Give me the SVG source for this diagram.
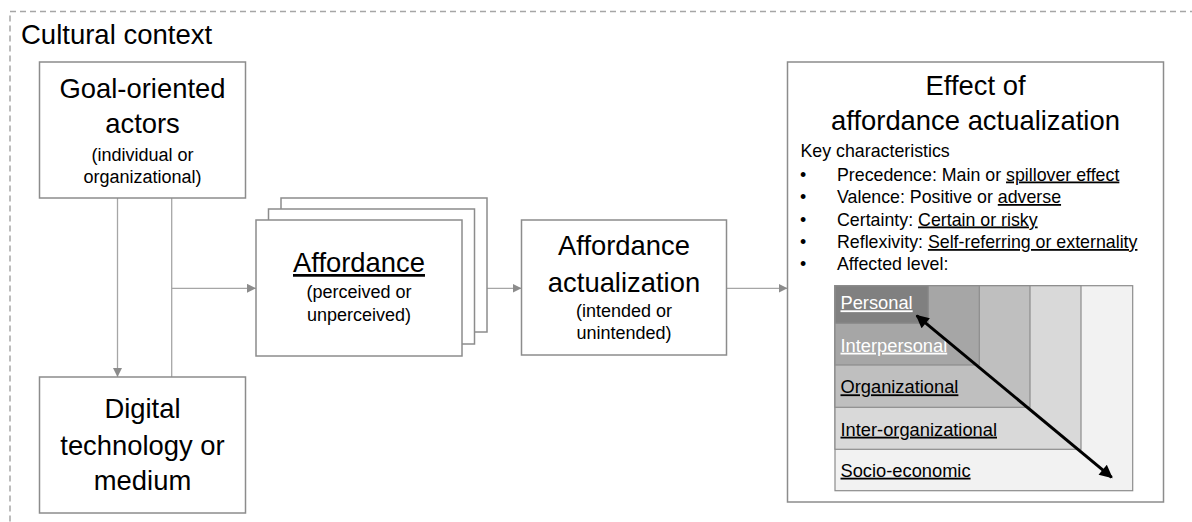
<svg xmlns="http://www.w3.org/2000/svg" width="1192" height="522" viewBox="0 0 1192 522">
<style>
  text { font-family: "Liberation Sans", Arial, sans-serif; fill: #000; }
  .big { font-size: 27.4px; text-anchor: middle; }
  .sub { font-size: 18px; text-anchor: middle; }
  .small { font-size: 17.8px; }
  .lvl { font-size: 18.3px; text-decoration: underline; }
  .box { fill: #fff; stroke: #8c8c8c; stroke-width: 1.5; }
  .conn { fill: none; stroke: #a6a6a6; stroke-width: 1.3; }
  .lv { stroke: #8c8c8c; stroke-width: 1.2; }
  .u { text-decoration: underline; }
</style>
<defs>
  <marker id="ga" viewBox="0 0 10 10" refX="10" refY="5" markerWidth="9" markerHeight="9" markerUnits="userSpaceOnUse" orient="auto">
    <path d="M0,0 L10,5 L0,10 Z" fill="#8c8c8c"/>
  </marker>
  <marker id="ba" viewBox="0 0 10 10" refX="9" refY="5" markerWidth="16" markerHeight="13" markerUnits="userSpaceOnUse" orient="auto-start-reverse">
    <path d="M0,0 L10,5 L0,10 Z" fill="#000"/>
  </marker>
</defs>

<rect x="10" y="11.5" width="1200" height="530" fill="none" stroke="#a6a6a6" stroke-width="1.5" stroke-dasharray="6 4"/>
<text x="21" y="44" style="font-size:27.5px">Cultural context</text>

<g id="connectors">
  <line class="conn" x1="117.5" y1="198" x2="117.5" y2="377" marker-end="url(#ga)"/>
  <line class="conn" x1="171.7" y1="198" x2="171.7" y2="377"/>
  <line class="conn" x1="171.7" y1="288.3" x2="256" y2="288.3" marker-end="url(#ga)"/>
  <line class="conn" x1="487" y1="288.3" x2="521.5" y2="288.3" marker-end="url(#ga)"/>
  <line class="conn" x1="726.5" y1="288.3" x2="787.5" y2="288.3" marker-end="url(#ga)"/>
</g>

<g id="goal-actors">
  <rect class="box" x="39.5" y="62" width="206" height="136"/>
  <text class="big" x="142.5" y="98">Goal-oriented</text>
  <text class="big" x="142.5" y="133">actors</text>
  <text class="sub" x="142.5" y="161">(individual or</text>
  <text class="sub" x="142.5" y="183">organizational)</text>
</g>

<g id="digital-technology">
  <rect class="box" x="39.5" y="377" width="206" height="136"/>
  <text class="big" x="142.5" y="418">Digital</text>
  <text class="big" x="142.5" y="455">technology or</text>
  <text class="big" x="142.5" y="490">medium</text>
</g>

<g id="affordance">
  <rect class="box" x="281" y="198" width="206" height="134"/>
  <rect class="box" x="268.5" y="209" width="206" height="135"/>
  <rect class="box" x="256" y="220" width="206" height="136"/>
  <text class="big u" x="359" y="272">Affordance</text>
  <text class="sub" x="359" y="298">(perceived or</text>
  <text class="sub" x="359" y="321">unperceived)</text>
</g>

<g id="affordance-actualization">
  <rect class="box" x="521.5" y="220" width="205" height="135"/>
  <text class="big" x="624" y="255">Affordance</text>
  <text class="big" x="624" y="291.5">actualization</text>
  <text class="sub" x="624" y="316.5">(intended or</text>
  <text class="sub" x="624" y="339">unintended)</text>
</g>

<g id="effect">
  <rect class="box" x="787.5" y="62" width="376" height="440"/>
  <text class="big" x="975.5" y="95">Effect of</text>
  <text class="big" x="975.5" y="130">affordance actualization</text>
  <text class="small" x="800.5" y="156.5">Key characteristics</text>
  <text class="small" x="800" y="180.5">•</text>
  <text class="small" x="837" y="180.5">Precedence: Main or <tspan class="u">spillover effect</tspan></text>
  <text class="small" x="800" y="203">•</text>
  <text class="small" x="837" y="203">Valence: Positive or <tspan class="u">adverse</tspan></text>
  <text class="small" x="800" y="225.5">•</text>
  <text class="small" x="837" y="225.5">Certainty: <tspan class="u">Certain or risky</tspan></text>
  <text class="small" x="800" y="248">•</text>
  <text class="small" x="837" y="248">Reflexivity: <tspan class="u">Self-referring or externality</tspan></text>
  <text class="small" x="800" y="270">•</text>
  <text class="small" x="837" y="270">Affected level:</text>
</g>

<g id="levels">
  <rect class="lv" x="835" y="285.7" width="297.7" height="205" fill="#f2f2f2"/>
  <rect class="lv" x="835" y="285.7" width="246" height="163.6" fill="#d9d9d9"/>
  <rect class="lv" x="835" y="285.7" width="195" height="121.6" fill="#bfbfbf"/>
  <rect class="lv" x="835" y="285.7" width="144.3" height="79.3" fill="#a6a6a6"/>
  <rect class="lv" x="835" y="285.7" width="93.3" height="37.6" fill="#808080"/>
  <text class="lvl" x="840.5" y="309.3" style="fill:#fff">Personal</text>
  <text class="lvl" x="840.5" y="351.7" style="fill:#fff">Interpersonal</text>
  <text class="lvl" x="840.5" y="393.3">Organizational</text>
  <text class="lvl" x="840.5" y="435.7">Inter-organizational</text>
  <text class="lvl" x="840.5" y="476.7">Socio-economic</text>
  <line x1="916.7" y1="315.7" x2="1111.7" y2="477.3" stroke="#000" stroke-width="3" marker-start="url(#ba)" marker-end="url(#ba)"/>
</g>
</svg>
